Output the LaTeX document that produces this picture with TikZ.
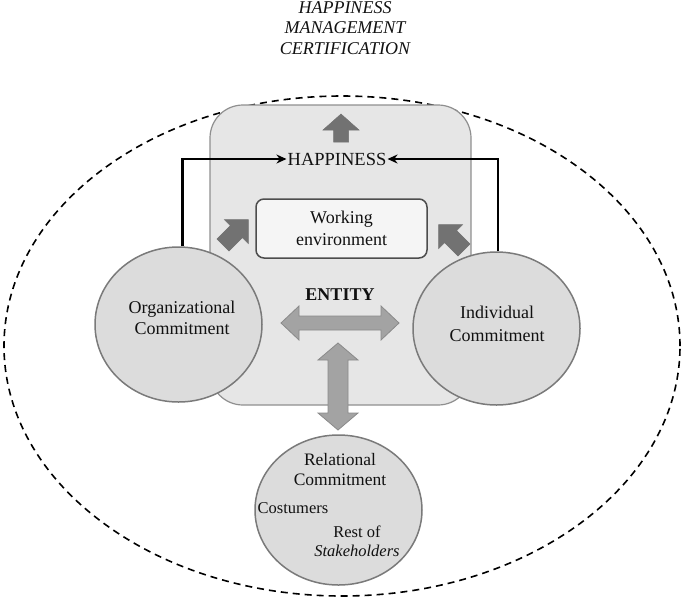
\documentclass[tikz,border=0pt]{standalone}
\usepackage{fontspec}
\setmainfont{Liberation Serif}
\usetikzlibrary{shapes.geometric,arrows.meta}
\definecolor{bubblefill}{HTML}{DCDCDC}
\definecolor{bubbleline}{HTML}{7A7A7A}
\definecolor{boxfill}{HTML}{E6E6E6}
\definecolor{boxline}{HTML}{8F8F8F}
\definecolor{envfill}{HTML}{F5F5F5}
\definecolor{envline}{HTML}{4D4D4D}
\definecolor{arrfill}{HTML}{A3A3A3}
\definecolor{arrline}{HTML}{8A8A8A}
\definecolor{darkarr}{HTML}{727272}
\definecolor{txtcol}{HTML}{111111}
\begin{document}
\begin{tikzpicture}[x=1pt,y=-1pt,
  txt/.style={font=\fontsize{18}{21}\selectfont, text=txtcol, align=center, inner sep=1pt},
  bubble/.style={ellipse, draw=bubbleline, fill=bubblefill, line width=1.5pt, inner sep=0pt},
  conn/.style={line width=2.4pt, -{Stealth[length=10pt,width=9pt]}},
  bigarrow/.style={fill=arrfill, draw=arrline, line width=0.8pt, line join=miter},
  darkarrow/.style={fill=darkarr, draw=darkarr, line width=0.5pt, line join=miter}
]
\useasboundingbox (0,0) rectangle (685,606);

% title
\node[txt, font=\fontsize{18}{20.5}\selectfont\itshape] (cert) at (345,28) {HAPPINESS\\MANAGEMENT\\CERTIFICATION};

% outer dashed ellipse
\node[ellipse, draw=black, line width=1.6pt, dash pattern=on 7pt off 5pt, inner sep=0pt,
      minimum width=676pt, minimum height=500pt] (outer) at (342,346) {};

% entity box
\node[rectangle, rounded corners=33pt, draw=boxline, fill=boxfill, line width=1.2pt,
      minimum width=261pt, minimum height=300pt] (entity) at (340.5,255) {};

% working environment
\node[txt, font=\fontsize{18}{22.5}\selectfont, rectangle, rounded corners=8pt, draw=envline, fill=envfill, line width=1.5pt,
      minimum width=171pt, minimum height=59pt] (env) at (341.5,228.5) {Working\\environment};

% happiness
\node[txt, font=\fontsize{18.5}{21}\selectfont] (hap) at (337,159) {HAPPINESS};

% up arrow above happiness
\path[darkarrow] (341,114) -- (359,130) -- (348.5,130) -- (348.5,142) -- (333.5,142) -- (333.5,130) -- (323,130) -- cycle;

% diagonal arrows
\path[darkarrow, shift={(235,233)}, rotate=45] (19,0) -- (2,17) -- (2,8.5) -- (-17,8.5) -- (-17,-8.5) -- (2,-8.5) -- (2,-17) -- cycle;
\path[darkarrow, shift={(452,238)}, rotate=135] (19,0) -- (2,17) -- (2,8.5) -- (-17,8.5) -- (-17,-8.5) -- (2,-8.5) -- (2,-17) -- cycle;

% ENTITY label
\node[txt, font=\fontsize{18}{21}\selectfont\bfseries] (ent) at (340,295) {ENTITY};

% horizontal double arrow
\path[bigarrow] (281,323) -- (299,306) -- (299,316) -- (381,316) -- (381,306) -- (399,323) -- (381,340) -- (381,330) -- (299,330) -- (299,340) -- cycle;

% vertical double arrow
\path[bigarrow] (338,343) -- (358,360) -- (348,360) -- (348,413) -- (358,413) -- (338,430) -- (318,413) -- (328,413) -- (328,360) -- (318,360) -- cycle;

% circles
\node[bubble, minimum width=167pt, minimum height=155pt] (org) at (178.5,324.5) {};
\node[bubble, minimum width=167pt, minimum height=153pt] (ind) at (496.5,328.5) {};
\node[bubble, minimum width=167pt, minimum height=150pt] (rel) at (338.5,510) {};

% connectors
\draw[conn] ([xshift=4pt]org.north) |- (hap.west);
\draw[conn] ([xshift=1.5pt]ind.north) |- (hap.east);

% circle texts
\node[txt, font=\fontsize{18}{20.5}\selectfont] (orgtxt) at (182,318) {Organizational\\Commitment};
\node[txt, font=\fontsize{18}{22.5}\selectfont] (indtxt) at (497,324) {Individual\\Commitment};
\node[txt, font=\fontsize{17.5}{20}\selectfont] (reltxt) at (340,470) {Relational\\Commitment};
\node[txt, font=\fontsize{16.5}{19}\selectfont] (cost) at (293,508) {Costumers};
\node[txt, font=\fontsize{16.5}{19}\selectfont] (rest) at (357,541) {Rest of\\\textit{Stakeholders}};
\end{tikzpicture}
\end{document}
